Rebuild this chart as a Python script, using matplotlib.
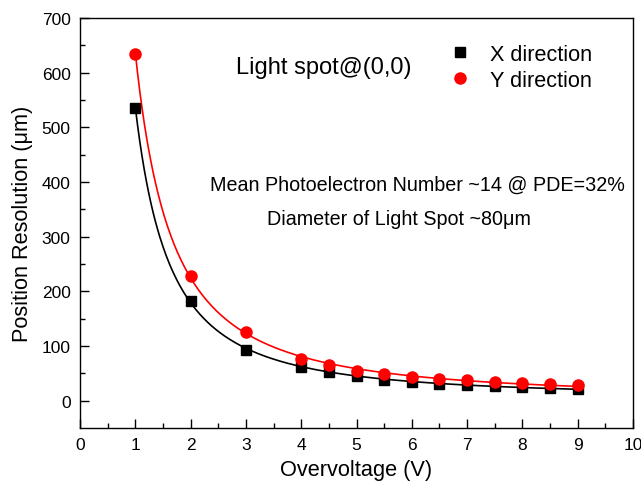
import numpy as np
import matplotlib.pyplot as plt

plt.rcParams['font.family'] = ['Liberation Sans', 'DejaVu Sans']

# overvoltage points and measured resolution
overvoltage = [1, 2, 3, 4, 4.5, 5, 5.5, 6, 6.5, 7, 7.5, 8, 8.5, 9]
res_x = [535, 182, 93, 61, 52, 46, 38, 34, 31, 29, 27, 25, 23, 21.5]
res_y = [634, 228, 125, 77, 66, 55, 49, 43, 39, 37, 35, 32.5, 31, 29]


def power_fit(x, y):
    # y = a * x^-b + c, grid over b, linear least squares for a, c
    x = np.asarray(x, float)
    y = np.asarray(y, float)
    best = None
    for b in np.linspace(0.5, 3.0, 501):
        A = np.column_stack([x ** -b, np.ones_like(x)])
        coef, res, _, _ = np.linalg.lstsq(A, y, rcond=None)
        err = np.sum((A @ coef - y) ** 2)
        if best is None or err < best[0]:
            best = (err, b, coef)
    _, b, (a, c) = best
    return lambda t: a * t ** -b + c


fig = plt.figure(figsize=(6.41, 4.89), dpi=100)
ax = fig.add_axes([0.125, 0.1227, 0.8625, 0.8385])

xx = np.linspace(1, 9, 400)
ax.plot(xx, power_fit(overvoltage, res_x)(xx), color='black', lw=1.2)
ax.plot(xx, power_fit(overvoltage, res_y)(xx), color='#ff0000', lw=1.2)
ax.plot(overvoltage, res_x, 's', color='black', ms=7, label='X direction')
ax.plot(overvoltage, res_y, 'o', color='#ff0000', ms=8, label='Y direction')

ax.set_xlim(0, 10)
ax.set_ylim(-50, 700)
ax.set_xticks(range(0, 11))
ax.set_xticks(np.arange(0.5, 10, 1), minor=True)
ax.set_yticks(range(0, 701, 100))
ax.set_yticks(range(50, 700, 100), minor=True)
ax.tick_params(which='both', direction='in', labelsize=12.5, width=1, pad=6.8)
ax.tick_params(which='major', length=6.5)
ax.tick_params(which='minor', length=3.6)
for s in ax.spines.values():
    s.set_linewidth(1.0)

ax.set_xlabel('Overvoltage (V)', fontsize=15.7, labelpad=4.5)
ax.set_ylabel('Position Resolution (\u03bcm)', fontsize=15.7, labelpad=6)

ax.text(2.82, 610, 'Light spot@(0,0)', fontsize=17, va='center', ha='left')
ax.text(2.35, 395, 'Mean Photoelectron Number ~14 @ PDE=32%', fontsize=14.2,
        va='center', ha='left')
ax.text(3.38, 333, 'Diameter of Light Spot ~80\u03bcm', fontsize=14.2,
        va='center', ha='left')

ax.legend(loc='upper left', bbox_to_anchor=(0.667, 0.937), frameon=False,
          fontsize=15.6, handlelength=1.0, handletextpad=0.92,
          borderpad=0, borderaxespad=0, labelspacing=0.22)

fig.savefig('out.png', dpi=100, facecolor='white')
